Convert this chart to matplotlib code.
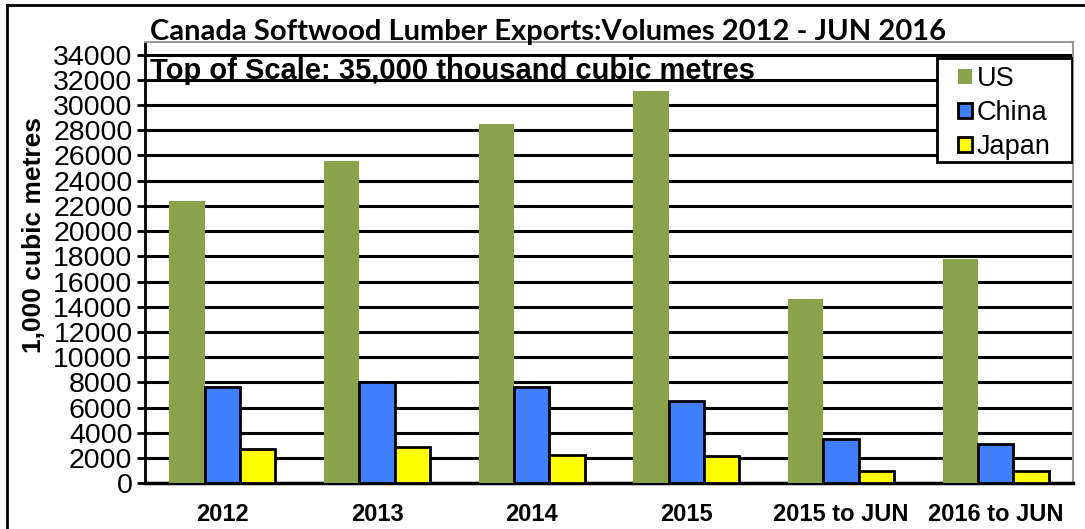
import numpy as np
import matplotlib.pyplot as plt
from matplotlib.lines import Line2D
from matplotlib.patches import Rectangle

categories = ["2012", "2013", "2014", "2015", "2015 to JUN", "2016 to JUN"]
us = [22400, 25600, 28500, 31100, 14600, 17800]
china = [7600, 8000, 7600, 6500, 3550, 3150]
japan = [2700, 2900, 2250, 2200, 1000, 1000]

plt.rcParams['font.family'] = ['Liberation Sans', 'DejaVu Sans']

W, H = 1085, 529
fig = plt.figure(figsize=(W / 100, H / 100), dpi=100)
ax_l, ax_r, ax_b, ax_t = 145, 1073, 483.3, 42
ax = fig.add_axes([ax_l / W, 1 - ax_b / H, (ax_r - ax_l) / W, (ax_b - ax_t) / H])


def to_axes(px, py):
    return (px - ax_l) / (ax_r - ax_l), (ax_b - py) / (ax_b - ax_t)


x = np.arange(len(categories))
w = 0.228
ax.bar(x - w, us, w, color="#8BA24C", edgecolor="none", label="US", zorder=3)
ax.bar(x, china, w, color="#4080FF", edgecolor="black", linewidth=2, label="China", zorder=3)
ax.bar(x + w, japan, w, color="#FFFF00", edgecolor="black", linewidth=2, label="Japan", zorder=3)

ax.set_xlim(-0.5, len(categories) - 0.5)
ax.set_ylim(0, 35000)
ax.set_yticks(np.arange(0, 34001, 2000))
ax.set_yticklabels([str(v) for v in range(0, 34001, 2000)], fontsize=20.5)
ax.set_xticks(x)
ax.set_xticklabels(categories, fontsize=17, fontweight="bold")
ax.tick_params(axis="x", length=0, pad=14)
ax.tick_params(axis="y", length=6, width=2, pad=3, direction="out")
ax.yaxis.grid(True, color="black", linewidth=2.2, zorder=0)
ax.set_axisbelow(True)

ax.spines["left"].set_linewidth(2)
ax.spines["bottom"].set_linewidth(2.5)
ax.spines["top"].set_color("#999999")
ax.spines["right"].set_color("#999999")
ax.spines["top"].set_linewidth(1.5)
ax.spines["right"].set_linewidth(1.5)

ax.set_ylabel("1,000 cubic metres", fontsize=19, fontweight="bold")
ax.yaxis.set_label_coords(*to_axes(46, 235))

# legend box drawn by hand, legend itself without frame
bx0, by0 = to_axes(937, 162)
bx1, by1 = to_axes(1072, 58)
ax.add_patch(Rectangle((bx0, by0), bx1 - bx0, by1 - by0, transform=ax.transAxes,
                       facecolor="white", edgecolor="black", linewidth=2, zorder=5))
leg = ax.legend(loc="upper left", bbox_to_anchor=to_axes(958, 66), fontsize=19.5,
                frameon=False, handlelength=0.5, handleheight=0.5,
                handletextpad=0.2, labelspacing=0.3, borderpad=0, borderaxespad=0)
leg.set_zorder(6)

fig.text(548 / W, 1 - 32 / H, "Canada Softwood Lumber Exports:Volumes 2012 - JUN 2016",
         ha="center", va="center", fontsize=21, fontweight="bold", family=["Lato", "DejaVu Sans"])
ax.text(0.005, 0.935, "Top of Scale: 35,000 thousand cubic metres", transform=ax.transAxes,
        ha="left", va="center", fontsize=21, fontweight="bold")

# outer frame
fig.add_artist(Line2D([7 / W, 7 / W], [0, 1 - 5 / H], color="black", linewidth=2,
                      transform=fig.transFigure))
fig.add_artist(Line2D([7 / W, 1], [1 - 5 / H, 1 - 5 / H], color="black", linewidth=2,
                      transform=fig.transFigure))

fig.savefig("out.png", dpi=100)
